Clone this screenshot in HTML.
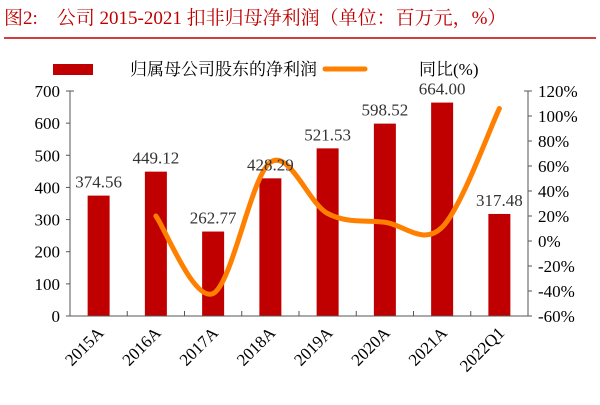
<!DOCTYPE html>
<html><head><meta charset="utf-8"><style>
body{margin:0;background:#fff;}
svg text{font-family:"Liberation Serif","Noto Serif CJK SC",serif;}
</style></head><body>
<svg id="c" width="600" height="400" xmlns="http://www.w3.org/2000/svg">
<text x="4" y="24" font-size="19" fill="#c00000">图2:　公司 2015-2021 扣非归母净利润（单位：百万元，%）</text>
<line x1="4" y1="38" x2="596" y2="38" stroke="#c00000" stroke-width="1.5"/>
<rect x="53" y="64" width="40" height="11" fill="#c00000"/>
<text x="130" y="75" font-size="17" fill="#000">归属母公司股东的净利润</text>
<line x1="325" y1="69" x2="365" y2="69" stroke="#ff8000" stroke-width="5" stroke-linecap="round"/>
<text x="419" y="75" font-size="17" fill="#000">同比(%)</text>
<g id="plot"></g>
</svg>
<script>
const categories=["2015A","2016A","2017A","2018A","2019A","2020A","2021A","2022Q1"];
const profit=[374.56,449.12,262.77,428.29,521.53,598.52,664.00,317.48];
const profitLabels=["374.56","449.12","262.77","428.29","521.53","598.52","664.00","317.48"];
const growth=[null,20,-42,63,22,15,11,106];
const leftTicks=[0,100,200,300,400,500,600,700];
const rightTicks=[-60,-40,-20,0,20,40,60,80,100,120];
const NS="http://www.w3.org/2000/svg";
const g=document.getElementById('plot');
const X0=70,X1=528,Y0=316,Y1=91;
const slot=(X1-X0)/categories.length;
const xc=i=>X0+slot*(i+0.5);
const yL=v=>Y0-(v/700)*(Y0-Y1);
const yR=v=>Y0-((v+60)/180)*(Y0-Y1);
function mk(t,a,txt){const e=document.createElementNS(NS,t);for(const k in a)e.setAttribute(k,a[k]);if(txt!=null)e.textContent=txt;g.appendChild(e);return e;}
profit.forEach((v,i)=>{
 const r=mk('rect',{x:xc(i)-11,y:yL(v),width:22,height:Y0-yL(v),fill:'#c00000'});
 
 
});
let ax=mk('path',{d:`M${X0+4},${Y1} H${X0} V${Y0} H${X1} V${Y1} H${X1-4}`,fill:'none',stroke:'#555','stroke-width':1});


for(let i=1;i<categories.length;i++){const t=mk('line',{x1:X0+slot*i,x2:X0+slot*i,y1:Y0,y2:Y0-5,stroke:'#555'});
 
 }
leftTicks.forEach(v=>{const t=mk('text',{x:X0-10,y:yL(v)+6,'font-size':17,'text-anchor':'end',fill:'#000'},String(v));
 
 
 const l=mk('line',{x1:X0,x2:X0-4,y1:yL(v),y2:yL(v),stroke:'#555'});
 
 });
rightTicks.forEach(v=>{const t=mk('text',{x:X1+10,y:yR(v)+6,'font-size':17,fill:'#000'},v+'%');
 
 
 const l=mk('line',{x1:X1,x2:X1+4,y1:yR(v),y2:yR(v),stroke:'#555'});
 
 });
categories.forEach((c,i)=>{const t=mk('text',{x:xc(i)+6,y:Y0+18,'font-size':17,'text-anchor':'end',transform:`rotate(-45 ${xc(i)+6} ${Y0+18})`,fill:'#000'},c);
 
 });
const pts=growth.map((v,i)=>v==null?null:[xc(i),yR(v)]).filter(p=>p);
let d=`M${pts[0][0]},${pts[0][1]}`;
for(let i=0;i<pts.length-1;i++){const p0=pts[Math.max(0,i-1)],p1=pts[i],p2=pts[i+1],p3=pts[Math.min(pts.length-1,i+2)];
 const c1=[p1[0]+(p2[0]-p0[0])/6,p1[1]+(p2[1]-p0[1])/6],c2=[p2[0]-(p3[0]-p1[0])/6,p2[1]-(p3[1]-p1[1])/6];
 d+=` C${c1[0]},${c1[1]} ${c2[0]},${c2[1]} ${p2[0]},${p2[1]}`;}
const ln=mk('path',{d,fill:'none',stroke:'#ff8000','stroke-width':5,'stroke-linecap':'round'});


profit.forEach((v,i)=>{const t=mk('text',{x:xc(i),y:yL(v)-8,'font-size':17,'text-anchor':'middle',fill:'#333'},profitLabels[i]);
 
 });
</script>
</body></html>
